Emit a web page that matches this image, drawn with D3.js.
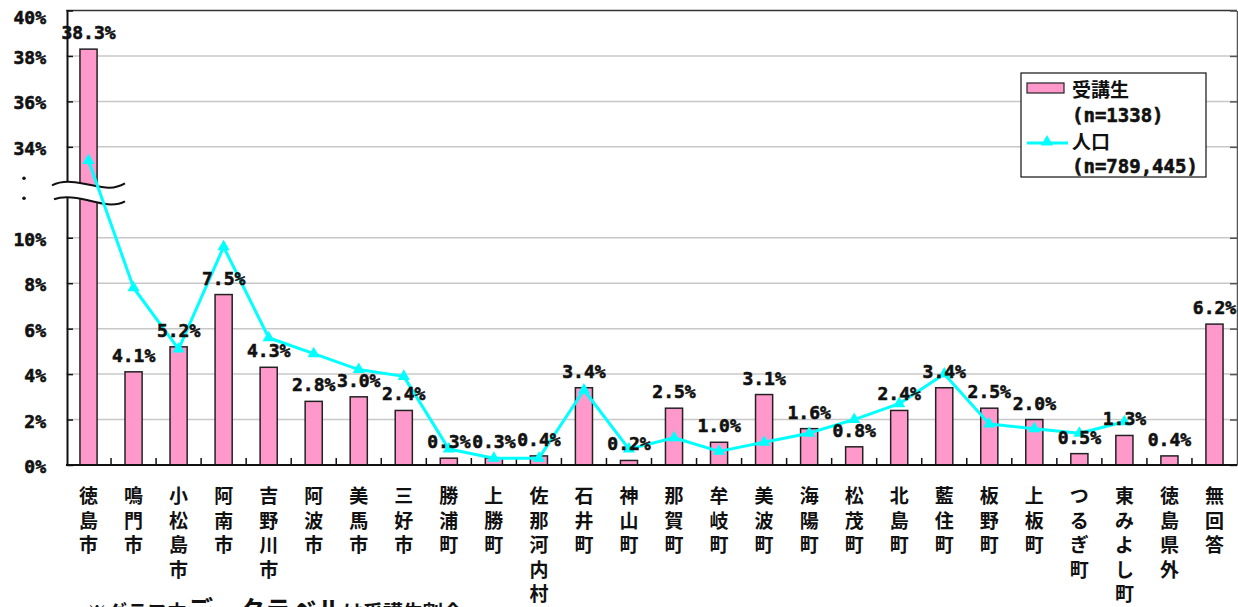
<!DOCTYPE html>
<html>
<head>
<meta charset="utf-8">
<script src="https://cdn.jsdelivr.net/npm/d3@7/dist/d3.min.js"></script>
<style>
  html, body { margin: 0; padding: 0; background: #fff; }
  svg { display: block; }
</style>
</head>
<body>
<svg id="chart" width="1238" height="607"></svg>
<script>
// Residence of course participants vs. population share by municipality
const categories = [
  "徳島市", "鳴門市", "小松島市", "阿南市", "吉野川市", "阿波市", "美馬市", "三好市",
  "勝浦町", "上勝町", "佐那河内村", "石井町", "神山町", "那賀町", "牟岐町", "美波町",
  "海陽町", "松茂町", "北島町", "藍住町", "板野町", "上板町", "つるぎ町", "東みよし町",
  "徳島県外", "無回答"
];
// 受講生 (n=1338), percent
const studentShare = [
  38.3, 4.1, 5.2, 7.5, 4.3, 2.8, 3.0, 2.4,
  0.3, 0.3, 0.4, 3.4, 0.2, 2.5, 1.0, 3.1,
  1.6, 0.8, 2.4, 3.4, 2.5, 2.0, 0.5, 1.3,
  0.4, 6.2
];
// 人口 (n=789,445), percent; no value outside the prefecture / no answer
const populationShare = [
  33.4, 7.8, 5.1, 9.6, 5.6, 4.9, 4.2, 3.9,
  0.7, 0.3, 0.3, 3.3, 0.7, 1.2, 0.6, 1.0,
  1.4, 2.0, 2.7, 4.0, 1.8, 1.6, 1.4, 1.9,
  null, null
];
const lowerTicks = [0, 2, 4, 6, 8, 10];
const upperTicks = [34, 36, 38, 40];

const svg = d3.select("#chart");
const plotLeft = 66, plotRight = 1237, plotTop = 10.5, plotBottom = 465;

// Broken value axis: 0–12% drawn as is, 32–40% shifted down by 20 points
const breakShift = 20;
const toAxis = v => (v > 20 ? v - breakShift : v);

const y = d3.scaleLinear().domain([0, 20]).range([plotBottom, plotTop]);
const x = d3.scaleBand().domain(categories).range([plotLeft, plotRight])
  .paddingInner(0.62).paddingOuter(0.31);

const numFont = "'DejaVu Sans Mono', 'Liberation Mono', monospace";
const jpFont = "'Noto Sans CJK JP', 'Noto Sans', sans-serif";

// gridlines
const allTicks = lowerTicks.concat(upperTicks);
svg.append("g").selectAll("line")
  .data(allTicks.filter(t => t !== 0 && t !== 40))
  .join("line")
  .attr("x1", plotLeft).attr("x2", plotRight)
  .attr("y1", d => y(toAxis(d))).attr("y2", d => y(toAxis(d)))
  .attr("stroke", "#c8c8c8").attr("stroke-width", 1.5);

// top border
svg.append("line").attr("x1", plotLeft).attr("x2", plotRight)
  .attr("y1", y(toAxis(40))).attr("y2", y(toAxis(40)))
  .attr("stroke", "#333").attr("stroke-width", 1.5);

// bars
svg.append("g").selectAll("rect")
  .data(categories.map((c, i) => ({ c, v: studentShare[i] })))
  .join("rect")
  .attr("x", d => x(d.c))
  .attr("width", x.bandwidth())
  .attr("y", d => y(toAxis(d.v)))
  .attr("height", d => plotBottom - y(toAxis(d.v)))
  .attr("fill", "#ff99cc")
  .attr("stroke", "#222").attr("stroke-width", 1.5);

// left axis with inward ticks
const yAxisL = d3.axisLeft(y)
  .tickValues(allTicks.map(toAxis))
  .tickFormat((d, i) => allTicks[i] + "%")
  .tickSizeInner(-6).tickSizeOuter(0).tickPadding(21);
const gL = svg.append("g").attr("transform", `translate(${plotLeft + 1},0)`).call(yAxisL);
gL.select(".domain").attr("stroke", "#111").attr("stroke-width", 2);
gL.selectAll(".tick line").attr("stroke", "#111").attr("stroke-width", 1.5);
gL.selectAll(".tick text")
  .attr("font-family", numFont).attr("font-weight", "bold").attr("font-size", 18)
  .attr("fill", "#111").attr("stroke", "#111").attr("stroke-width", 0.6)
  .attr("dy", (d, i) => allTicks[i] === 40 ? "0.7em" : "0.42em");

// right axis
const yAxisR = d3.axisRight(y)
  .tickValues(allTicks.map(toAxis))
  .tickFormat("")
  .tickSizeInner(-7).tickSizeOuter(0);
const gR = svg.append("g").attr("transform", `translate(${plotRight},0)`).call(yAxisR);
gR.select(".domain").attr("stroke", "#555").attr("stroke-width", 1.5);
gR.selectAll(".tick line").attr("stroke", "#555").attr("stroke-width", 1.5);

// category axis
svg.append("line").attr("x1", plotLeft).attr("x2", plotRight)
  .attr("y1", plotBottom).attr("y2", plotBottom)
  .attr("stroke", "#111").attr("stroke-width", 2);
const gap = (x.step() - x.bandwidth()) / 2;
svg.append("g").selectAll("line")
  .data(categories.slice(1))
  .join("line")
  .attr("x1", d => x(d) - gap).attr("x2", d => x(d) - gap)
  .attr("y1", plotBottom).attr("y2", plotBottom - 7)
  .attr("stroke", "#111").attr("stroke-width", 1.5);

// vertical category labels
const catG = svg.append("g");
categories.forEach(c => {
  const t = catG.append("text")
    .attr("x", x(c) + x.bandwidth() / 2)
    .attr("y", 503)
    .attr("text-anchor", "middle")
    .attr("font-family", jpFont).attr("font-weight", "bold").attr("font-size", 19)
    .attr("fill", "#111");
  Array.from(c).forEach((ch, k) => {
    t.append("tspan")
      .attr("x", x(c) + x.bandwidth() / 2)
      .attr("dy", k === 0 ? 0 : 24.5)
      .text(ch);
  });
});

// axis break marker
const yb = y(12);
const brk = svg.append("g").attr("transform", `translate(0,${yb})`);
brk.append("path")
  .attr("d", "M52,-7 C64,-13 78,-10 92,-7 S114,-3 125,-9 L125,9 C114,15 100,11 88,8 S64,3 54,7 Z")
  .attr("fill", "#fff").attr("stroke", "none");
brk.append("path")
  .attr("d", "M52,-7 C64,-13 78,-10 92,-7 S114,-3 125,-9")
  .attr("fill", "none").attr("stroke", "#111").attr("stroke-width", 2);
brk.append("path")
  .attr("d", "M54,7 C64,3 76,5 88,8 S114,15 125,9")
  .attr("fill", "none").attr("stroke", "#111").attr("stroke-width", 2);
brk.selectAll("circle").data([-14, 6]).join("circle")
  .attr("cx", 24).attr("cy", d => d).attr("r", 1.8).attr("fill", "#111");

// population line
const linePts = categories
  .map((c, i) => ({ c, v: populationShare[i] }))
  .filter(d => d.v !== null);
const line = d3.line()
  .x(d => x(d.c) + x.bandwidth() / 2)
  .y(d => y(toAxis(d.v)));
svg.append("path").datum(linePts)
  .attr("d", line)
  .attr("fill", "none").attr("stroke", "#00ffff").attr("stroke-width", 3)
  .attr("stroke-linejoin", "round");
const tri = d3.symbol().type(d3.symbolTriangle).size(64);
svg.append("g").selectAll("path")
  .data(linePts)
  .join("path")
  .attr("d", tri)
  .attr("transform", d => `translate(${x(d.c) + x.bandwidth() / 2},${y(toAxis(d.v))})`)
  .attr("fill", "#00ffff");

// data labels (student share)
svg.append("g").selectAll("text")
  .data(categories.map((c, i) => ({ c, v: studentShare[i] })))
  .join("text")
  .attr("x", d => x(d.c) + x.bandwidth() / 2)
  .attr("y", d => y(toAxis(d.v)) - 10)
  .attr("text-anchor", "middle")
  .attr("font-family", numFont).attr("font-weight", "bold").attr("font-size", 18)
  .attr("fill", "#111").attr("stroke", "#111").attr("stroke-width", 0.6)
  .text(d => d.v.toFixed(1) + "%");

// legend
const lg = svg.append("g").attr("transform", "translate(1021,73)");
lg.append("rect").attr("width", 185).attr("height", 104)
  .attr("fill", "#fff").attr("stroke", "#111").attr("stroke-width", 1.2);
lg.append("rect").attr("x", 6).attr("y", 10).attr("width", 37).attr("height", 10)
  .attr("fill", "#ff99cc").attr("stroke", "#222").attr("stroke-width", 1.2);
lg.append("line").attr("x1", 6).attr("x2", 47).attr("y1", 70).attr("y2", 70)
  .attr("stroke", "#00ffff").attr("stroke-width", 3);
lg.append("path").attr("d", tri).attr("transform", "translate(26,69)").attr("fill", "#00ffff");
const legendText = [
  { t: "受講生", y: 24, f: jpFont, s: 0 },
  { t: "(n=1338)", y: 49, f: numFont, s: 0.6 },
  { t: "人口", y: 76, f: jpFont, s: 0 },
  { t: "(n=789,445)", y: 100, f: numFont, s: 0.6 }
];
lg.selectAll("text.lt").data(legendText).join("text")
  .attr("class", "lt")
  .attr("x", 51).attr("y", d => d.y)
  .attr("font-family", d => d.f).attr("font-weight", "bold").attr("font-size", 19)
  .attr("fill", "#111").attr("stroke", "#111").attr("stroke-width", d => d.s)
  .text(d => d.t);

// footnote
const note = svg.append("text").attr("x", 87).attr("y", 620)
  .attr("font-family", jpFont).attr("font-weight", "bold").attr("fill", "#111");
note.append("tspan").attr("font-size", 20).text("※グラフ中");
note.append("tspan").attr("font-size", 26).text("データラベル");
note.append("tspan").attr("font-size", 20).text("は受講生割合");
</script>
</body>
</html>
